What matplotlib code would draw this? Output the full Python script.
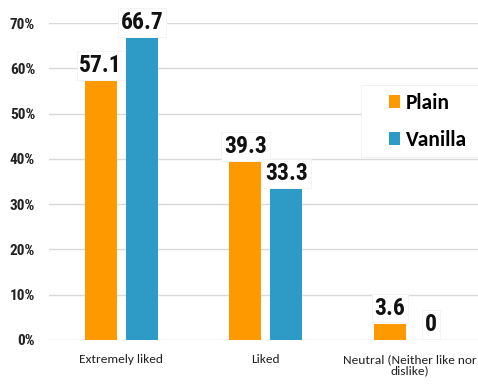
import matplotlib
matplotlib.use("Agg")
import matplotlib.pyplot as plt
from matplotlib.patches import Rectangle
import numpy as np

# survey results, percent of panel
categories = ["Extremely liked", "Liked", "Neutral (Neither like nor\ndislike)"]
plain = [57.1, 39.3, 3.6]
vanilla = [66.7, 33.3, 0]
series_names = ["Plain", "Vanilla"]
yticks = [0, 10, 20, 30, 40, 50, 60, 70]

ORANGE = "#FF9900"
BLUE = "#2E9BC6"
NARROW = ["Roboto Condensed", "DejaVu Sans"]
CALIBRI = ["Carlito", "DejaVu Sans"]

fig = plt.figure(figsize=(4.78, 3.84), dpi=100)
ax = fig.add_axes([0.1025, 0.1146, 0.904, 0.8255])

x = np.arange(len(categories))
w = 0.222
off = 0.142
b1 = ax.bar(x - off, plain, w, color=ORANGE, label=series_names[0], zorder=2)
b2 = ax.bar(x + off, vanilla, w, color=BLUE, label=series_names[1], zorder=2)

# value labels above each bar
for bars, vals in ((b1, plain), (b2, vanilla)):
    for r, v in zip(bars, vals):
        ax.annotate(f"{v:g}", (r.get_x() + r.get_width() / 2, v),
                    xytext=(0, 3), textcoords="offset points",
                    ha="center", va="bottom", fontsize=17, fontweight="bold",
                    family=NARROW, color="#111111", zorder=3,
                    bbox=dict(boxstyle="square,pad=0.12", fc="white",
                              ec="#f3f3f3", lw=0.6))

ax.set_xlim(-0.5, 2.49)
ax.set_ylim(0, 70)
ax.set_yticks(yticks)
ax.set_yticklabels([f"{t}%" for t in yticks], fontsize=11, fontweight="bold",
                   family=NARROW, color="#222222")
ax.set_xticks(x)
ax.set_xticklabels(categories, fontsize=9.6, family=CALIBRI, color="#222222",
                   linespacing=1.05)
ax.tick_params(axis="y", length=0, pad=10)
ax.tick_params(axis="x", length=0, pad=10)
ax.yaxis.grid(True, color="#d9d9d9", lw=1.0, zorder=0)
ax.set_axisbelow(True)
for s in ax.spines.values():
    s.set_visible(False)

# white panel behind the legend, wider than the legend itself
ax.add_patch(Rectangle((361 / 478, 1 - 157 / 384), 1 - 361 / 478, 72 / 384,
                       transform=fig.transFigure, fc="white", ec="#f0f0f0",
                       lw=0.6, zorder=3, clip_on=False))

leg = ax.legend(loc="upper left", bbox_to_anchor=(389 / 478, 1 - 93 / 384),
                bbox_transform=fig.transFigure, borderaxespad=0,
                prop={"family": CALIBRI, "size": 15.5, "weight": "bold"},
                handlelength=0.5, handleheight=0.55, handletextpad=0.3,
                labelspacing=0.8, borderpad=0, frameon=False)
leg.set_zorder(4)

fig.savefig("out.png", dpi=100)
